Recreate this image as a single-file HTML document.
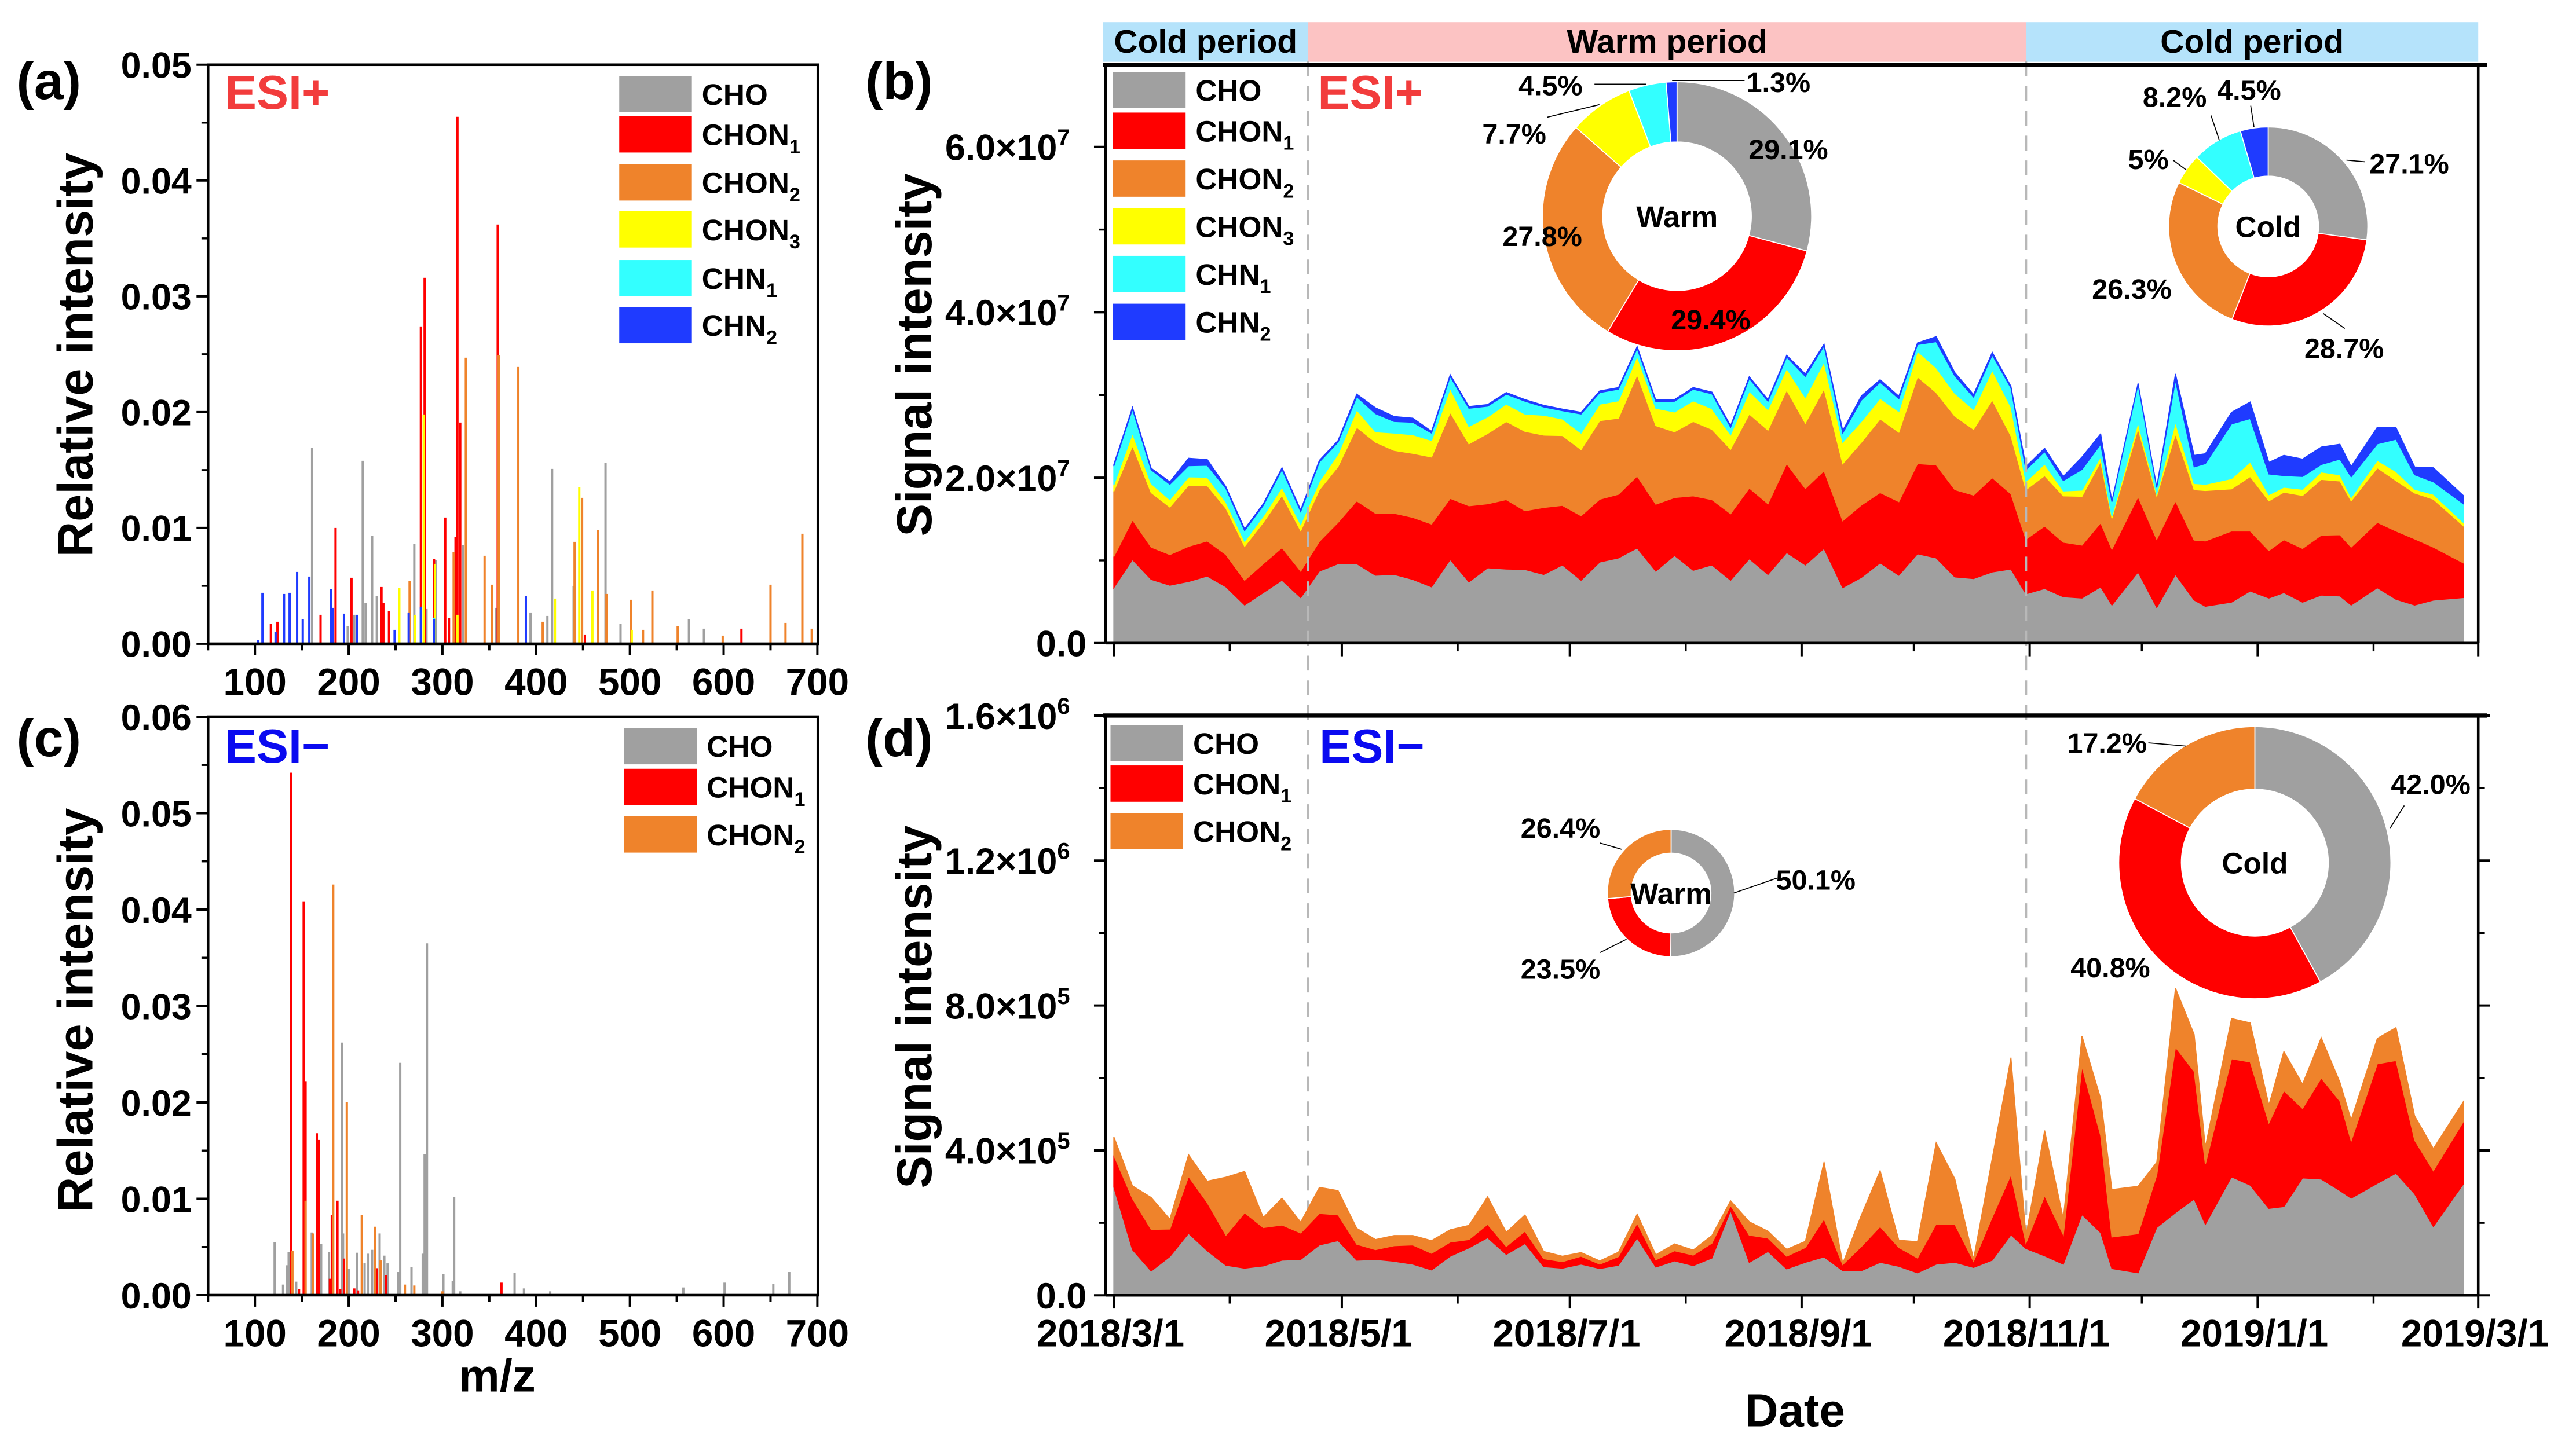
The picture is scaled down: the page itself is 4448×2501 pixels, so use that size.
<!DOCTYPE html>
<html><head><meta charset="utf-8"><title>ESI+/ESI- spectra and signal intensity</title>
<style>
html,body{margin:0;padding:0;background:#fff;}
svg{display:block;font-family:"Liberation Sans",Arial,sans-serif;font-weight:bold;}
</style></head>
<body>
<svg id="fig" xmlns="http://www.w3.org/2000/svg" width="4448" height="2501" viewBox="0 0 1560 877.2" preserveAspectRatio="none">
<rect x="0" y="0" width="1560" height="877.2" fill="#fff"/>
<g id="gA"></g>
<g id="gC"></g>
<g id="gB"></g>
<g id="gD"></g>
<g id="gTxt">
<text x="10" y="60" font-size="32">(a)</text>
<text x="524" y="60" font-size="32">(b)</text>
<text x="10" y="458" font-size="32">(c)</text>
<text x="524" y="458" font-size="32">(d)</text>
<text x="136" y="66" font-size="29" fill="#f23c3c">ESI+</text>
<text x="798" y="66" font-size="29" fill="#f23c3c">ESI+</text>
<text x="136" y="462" font-size="29" fill="#0a0af0">ESI−</text>
<text x="799" y="462" font-size="29" fill="#0a0af0">ESI−</text>
<text transform="translate(56,215) rotate(-90)" text-anchor="middle" font-size="30" textLength="245" lengthAdjust="spacingAndGlyphs">Relative intensity</text>
<text transform="translate(56,612) rotate(-90)" text-anchor="middle" font-size="30" textLength="245" lengthAdjust="spacingAndGlyphs">Relative intensity</text>
<text transform="translate(564,215) rotate(-90)" text-anchor="middle" font-size="30" textLength="220" lengthAdjust="spacingAndGlyphs">Signal intensity</text>
<text transform="translate(564,610) rotate(-90)" text-anchor="middle" font-size="30" textLength="220" lengthAdjust="spacingAndGlyphs">Signal intensity</text>
<text x="301" y="843" text-anchor="middle" font-size="28">m/z</text>
<text x="1087" y="864" text-anchor="middle" font-size="28">Date</text>
</g>
</svg>
<script>
// ---------- Panel (a) ESI+ spectrum data ----------
const posMz  = [161,215,225,270,293,322,417,474,394,563,579,490,357,412,199,440,283,206,230,218,
                186,203,235,277,281,316,319,303,359,291,117,124,170,237,243,314,307,619,452,
                325,360,381,345,353,449,466,441,475,501,524,650,684,666,551,312,265,407,694,599,514,
                280,446,254,292,420,460,271,316,502,
                277,291,
                108,131,137,145,151,158,181,183,195,209,264,277,389,291,122,249,103];
const posInt = [0.0169,0.0158,0.0093,0.0086,0.0072,0.0085,0.0151,0.0156,0.0027,0.0021,0.0013,0.0017,0.0031,0.0024,0.0015,0.0050,0.0030,0.0025,0.0041,0.0035,
                0.0100,0.0057,0.0049,0.0274,0.0316,0.0455,0.0191,0.0109,0.0362,0.0073,0.0017,0.0019,0.0025,0.0035,0.0028,0.0092,0.0022,0.0013,0.0008,
                0.0247,0.0249,0.0239,0.0076,0.0051,0.0126,0.0098,0.0088,0.0043,0.0038,0.0046,0.0051,0.0095,0.0018,0.0015,0.0079,0.0054,0.0019,0.0013,0.0007,0.0012,
                0.0198,0.0135,0.0048,0.0069,0.0039,0.0046,0.0025,0.0025,0.0012,
                0.0030,0.0022,
                0.0044,0.0043,0.0044,0.0062,0.0021,0.0058,0.0047,0.0031,0.0026,0.0025,0.0027,0.0032,0.0041,0.0021,0.0010,0.0012,0.0003];
const posCls = [0,0,0,0,0,0,0,0,0,0,0,0,0,0,0,0,0,0,0,0,
                1,1,1,1,1,1,1,1,1,1,1,1,1,1,1,1,1,1,1,
                2,2,2,2,2,2,2,2,2,2,2,2,2,2,2,2,2,2,2,2,2,
                3,3,3,3,3,3,3,3,3,
                4,4,
                5,5,5,5,5,5,5,5,5,5,5,5,5,5,5,5,5];
// ---------- Panel (c) ESI- spectrum data ----------
const negMz  = [193,255,283.5,281,312.5,121,136,134,160.6,170.6,179,194,209,221,225,233,238,253,267,279,301,311,377,387,557,601,653,670,144,130,200,217,241.5,415,319,
                138.5,152,154,166,168,188,182,147,230,240,363,206,210,180,191,195,
                183.5,198,214,228,154,162,140,234,260,270,300];
const negInt = [0.0262,0.0241,0.0365,0.0146,0.0102,0.0055,0.0045,0.0031,0.0065,0.0053,0.0045,0.0064,0.0044,0.0043,0.0047,0.0064,0.0041,0.0024,0.0029,0.0043,0.0022,0.0015,0.0023,0.0007,0.0008,0.0013,0.0012,0.0024,0.0014,0.0011,0.0027,0.0033,0.0033,0.0004,0.0004,
                0.0542,0.0408,0.0222,0.0168,0.0161,0.0098,0.0083,0.0006,0.0028,0.0021,0.0013,0.0007,0.0005,0.0017,0.0006,0.0038,
                0.0426,0.0200,0.0083,0.0071,0.0098,0.0064,0.0046,0.0036,0.0011,0.0010,0.0004];
const negCls = [0,0,0,0,0,0,0,0,0,0,0,0,0,0,0,0,0,0,0,0,0,0,0,0,0,0,0,0,0,0,0,0,0,0,0,
                1,1,1,1,1,1,1,1,1,1,1,1,1,1,1,1,
                2,2,2,2,2,2,2,2,2,2,2];
// ---------- Time series (days since 2018/3/1) ----------
const sampleDays = [0,5,10,15,20,25,30,35,40,45,50,55,60,65,70,75,80,85,90,95,100,105,110,115,120,125,130,135,140,145,150,155,160,165,170,175,180,
                    185,190,195,200,205,210,215,220,225,230,235,240,244,249,254,259,264,267,274,279,284,289,292,299,304,309,313,318,323,328,331,338,343,348,353,361];
// ESI+ signal (units of 1e6)
const posCHO   = [6.7,10.1,7.7,7.0,7.45,8.1,6.8,4.6,6.1,7.6,5.5,8.7,9.6,9.6,8.2,8.3,7.7,6.8,10.1,7.4,9.1,8.95,8.9,8.3,9.45,7.6,9.8,10.3,11.5,8.7,10.6,8.8,9.45,7.6,10.2,8.3,10.95,
                  9.45,11.45,6.7,7.95,9.7,8.2,10.8,10.3,8.0,7.8,8.6,8.95,5.95,6.6,5.6,5.45,6.8,4.6,8.6,4.3,8.3,5.2,4.45,4.95,6.3,5.45,6.1,4.95,5.8,5.7,4.6,6.7,5.3,4.6,5.2,5.5];
const posCHON1 = [3.75,4.8,3.9,3.7,4.25,4.25,3.9,3.0,3.5,3.95,3.2,3.6,5.0,7.6,7.5,7.4,7.5,7.6,7.4,9.2,7.75,8.4,7.1,8.1,7.2,7.8,7.6,7.7,8.7,8.1,7.0,9.0,7.9,8.05,8.55,8.55,10.75,
                  9.25,9.4,8.1,8.75,8.5,8.9,10.9,11.25,10.55,10.1,11.4,9.1,6.6,7.55,6.6,6.4,7.75,6.75,9.1,8.25,8.9,7.25,7.9,8.6,7.25,5.75,6.4,6.5,7.25,7.4,7.0,7.9,8.25,8.0,6.4,4.2];
const posCHON2 = [7.9,8.95,6.6,5.75,7.4,6.7,5.6,4.1,5.0,6.3,4.9,6.25,6.75,8.9,8.6,7.6,7.75,8.1,10.4,7.5,8.5,9.45,9.6,8.75,8.45,8.0,9.5,9.2,12.25,9.5,7.95,9.0,8.5,7.8,8.95,8.9,8.9,
                  7.9,9.9,6.9,7.6,8.9,8.4,10.5,8.75,8.9,7.95,9.4,7.0,6.0,6.1,5.6,5.9,7.4,3.75,8.25,5.25,8.1,6.1,6.1,5.1,6.6,6.0,5.75,6.4,6.75,6.5,5.6,6.6,6.1,5.55,5.8,4.5];
const posCHON3 = [0.75,1.5,1.1,0.9,1.0,1.0,0.75,0.6,0.75,1.0,0.75,1.0,1.5,2.1,1.25,2.1,2.25,2.0,2.9,2.1,2.0,2.1,2.1,2.4,2.0,2.0,2.0,2.1,2.25,2.1,2.4,2.5,2.5,1.75,2.75,2.5,2.6,
                  3.1,3.25,2.6,2.5,2.5,2.5,3.1,3.0,2.75,2.4,3.6,3.5,1.0,1.4,0.6,0.75,0.6,0.25,0.75,0.25,1.4,0.75,0.75,1.25,1.75,0.75,0.6,0.75,0.9,0.75,0.4,0.9,1.1,0.45,0.6,0.4];
const posCHN1  = [2.3,2.95,1.65,1.85,1.35,1.45,1.65,1.3,1.3,2.15,1.55,2.35,1.45,1.6,2.2,1.4,1.5,0.9,1.45,2.2,1.3,1.2,1.55,1.0,1.0,2.3,1.4,1.4,0.95,0.8,1.3,1.4,1.8,0.9,1.55,1.0,1.4,
                  2.55,1.95,1.1,2.6,1.95,1.55,0.8,3.15,2.1,1.5,1.85,2.3,1.4,1.5,1.25,2.5,1.5,1.75,4.6,0.75,5.1,2.0,2.5,6.6,5.25,2.5,1.4,1.55,0.9,1.9,2.5,2.0,3.9,1.75,1.5,2.25];
const posCHN2  = [0.2,0.2,0.2,0.3,0.9,0.7,0.2,0.2,0.2,0.2,0.2,0.2,0.2,0.3,0.7,0.6,0.5,0.2,0.2,0.2,0.2,0.2,0.2,0.2,0.2,0.2,0.2,0.2,0.2,0.2,0.2,0.2,0.2,0.2,0.2,0.2,0.2,
                  0.3,0.2,0.3,0.5,0.3,0.3,0.2,0.6,0.4,0.3,0.3,0.2,0.4,0.4,0.5,1.5,1.25,0.05,0.1,0.05,0.75,1.4,1.2,1.4,2.0,1.4,2.45,2.1,2.1,1.8,1.25,2.0,1.4,0.95,1.7,1.0];
// ESI- signal (units of 1e5)
const negCHO   = [2.99,1.26,0.67,1.07,1.71,1.23,0.83,0.75,0.81,0.97,0.99,1.39,1.51,0.97,0.99,0.94,0.86,0.70,1.08,1.31,1.59,1.13,1.43,0.79,0.75,0.86,0.74,0.83,1.58,0.78,0.95,0.82,1.03,2.34,0.91,1.21,0.73,
                  0.91,1.06,0.68,0.68,0.91,0.80,0.62,0.86,0.91,0.77,0.97,1.67,1.29,1.09,0.86,2.23,1.73,0.74,0.62,1.87,2.28,2.66,1.96,3.27,3.04,2.40,2.45,3.24,3.21,2.89,2.68,3.09,3.37,2.80,1.90,3.07];
const negCHON1 = [0.88,1.41,1.15,0.76,1.57,1.33,0.83,1.53,1.06,0.97,0.73,0.87,0.71,0.44,0.27,0.43,0.53,0.46,0.39,0.23,0.37,0.22,0.34,0.22,0.18,0.22,0.12,0.24,0.41,0.20,0.28,0.29,0.41,0.14,0.75,0.37,0.35,
                  0.41,1.05,0.17,0.67,0.99,0.52,0.41,1.11,1.05,0.17,1.19,1.66,0.15,1.66,0.81,4.09,2.68,0.87,1.08,1.45,4.57,3.52,1.66,3.26,3.40,2.36,3.20,1.92,2.79,2.47,1.58,3.30,3.11,1.48,1.54,1.72];
const negCHON2 = [0.51,0.35,0.88,0.27,0.60,0.59,1.60,1.14,0.28,0.74,0.30,0.72,0.67,0.44,0.28,0.28,0.26,0.35,0.34,0.39,0.76,0.39,0.45,0.20,0.15,0.10,0.09,0.12,0.25,0.14,0.19,0.14,0.21,0.13,0.37,0.19,0.19,
                  0.17,1.57,0.03,0.87,1.54,0.20,0.45,2.24,1.25,0.06,1.62,3.23,0.20,1.80,0.44,0.84,1.02,1.31,1.31,0.35,1.63,1.02,0.47,1.11,1.08,0.49,1.08,0.67,1.11,0.52,0.58,0.70,0.91,0.67,0.61,0.55];
// Donut shares (%)
const warmPosShares = [29.1,29.4,27.8,7.7,4.5,1.3];
const coldPosShares = [27.1,28.7,26.3,5,8.2,4.5];
const warmNegShares = [50.1,23.5,26.4];
const coldNegShares = [42.0,40.8,17.2];
// Ticks
const mzTicks = [100,200,300,400,500,600,700];
const relTicksA = [0,0.01,0.02,0.03,0.04,0.05];
const relTicksC = [0,0.01,0.02,0.03,0.04,0.05,0.06];
const dateTickDays = [0,61,122,184,245,306,365];
const dateTickLabels = ["2018/3/1","2018/5/1","2018/7/1","2018/9/1","2018/11/1","2019/1/1","2019/3/1"];
const minorMonthDays = [31,92,153,214,275,337];
const posSigTicks = [0,20,40,60];          // x1e6
const posSigLabels = [["0.0",""],["2.0×10","7"],["4.0×10","7"],["6.0×10","7"]];
const negSigTicks = [0,4,8,12,16];         // x1e5
const negSigLabels = [["0.0",""],["4.0×10","5"],["8.0×10","5"],["1.2×10","6"],["1.6×10","6"]];
const periodBounds = [0,52,244,365];

const COLORS = ["#a0a0a0","#ff0000","#ef832b","#ffff00","#33ffff","#1f3bff"];
const CLASSNAMES = ["cho","chon1","chon2","chon3","chn1","chn2"];
const NS = "http://www.w3.org/2000/svg";
const AXL = 669.5, AXR = 1500.8;
function mk(tag, attrs, parent){
  const e = document.createElementNS(NS, tag);
  for (const k in attrs) e.setAttribute(k, attrs[k]);
  parent.appendChild(e);
  return e;
}
// scales
const xm = mz => 126 + (mz-50)*369/650;
const ya = v => 390 - v*350.8/0.05;
const yc = v => 784.6 - v*350.4/0.06;
const xd = d => 674.5 + d*826.3/365;
const yb = v => 389.6 - v*300.6/60;
const yd = v => 784.7 - v*351.2/16;

// ---------- spectra ----------
function spectrum(g, mzs, ints, cls, ycalc, top, bottom, ticks){
  for (let c=0;c<6;c++){
    for (let i=0;i<mzs.length;i++){
      if (cls[i]!==c) continue;
      const y = ycalc(ints[i]);
      const b = mk('rect',{x:xm(mzs[i])-0.7,y:y,width:1.4,height:bottom-y,fill:COLORS[c]},g);
      
      
    }
  }
  const fr = mk('rect',{x:126,y:top,width:369.3,height:bottom-top,fill:'none',stroke:'#000','stroke-width':1.6},g);
  
  
  for (let m=50;m<=700;m+=50){
    const major = (m%100===0);
    const t = mk('line',{x1:xm(m),x2:xm(m),y1:bottom,y2:bottom+(major?7:4),stroke:'#000','stroke-width':1.4},g);
    
    
  }
  mzTicks.forEach(m=>{
    const t = mk('text',{x:xm(m),y:bottom+31,'text-anchor':'middle','font-size':23},g);
    t.textContent = m;
    
    
  });
  ticks.forEach((v,i)=>{
    const y = ycalc(v);
    const t = mk('line',{x1:126,x2:119,y1:y,y2:y,stroke:'#000','stroke-width':1.4},g);
    
    
    if (i<ticks.length-1){
      const ym = ycalc(v+0.005);
      const t2 = mk('line',{x1:126,x2:122,y1:ym,y2:ym,stroke:'#000','stroke-width':1.2},g);
      
      
    }
    const l = mk('text',{x:116,y:y+8,'text-anchor':'end','font-size':22},g);
    l.textContent = v.toFixed(2);
    
    
  });
}
const gA = document.getElementById('gA');
spectrum(gA, posMz, posInt, posCls, ya, 39.2, 390, relTicksA);
const gC = document.getElementById('gC');
spectrum(gC, negMz, negInt, negCls, yc, 434.2, 784.6, relTicksC);

// legends
function legend(g, x, rows, names, colors, boxH){
  rows.forEach((cy,i)=>{
    const r = mk('rect',{x:x,y:cy-boxH/2,width:44,height:boxH,fill:colors[i]},g);
    
    
    const t = mk('text',{x:x+50,y:cy+6.5,'font-size':18},g);
    
    
    t.appendChild(document.createTextNode(names[i][0]));
    if (names[i][1]){
      const s = mk('tspan',{'font-size':12,dy:5},t);
      s.textContent = names[i][1];
    }
  });
}
const LEG6 = [["CHO",""],["CHON","1"],["CHON","2"],["CHON","3"],["CHN","1"],["CHN","2"]];
legend(gA, 375, [57,81.4,110.5,139,168.5,197], LEG6, COLORS, 22);
legend(gC, 378, [452,476.7,505.5], LEG6.slice(0,3), COLORS, 22);

// ---------- time series panels ----------
function stacked(g, layers, ycalc){
  const n = sampleDays.length;
  let base = new Array(n).fill(0);
  layers.forEach((arr,li)=>{
    const top = base.map((b,i)=>b+arr[i]);
    let pts = [];
    for (let i=0;i<n;i++) pts.push(xd(sampleDays[i]).toFixed(2)+','+ycalc(top[i]).toFixed(2));
    for (let i=n-1;i>=0;i--) pts.push(xd(sampleDays[i]).toFixed(2)+','+ycalc(base[i]).toFixed(2));
    const p = mk('polygon',{points:pts.join(' '),fill:COLORS[li],stroke:COLORS[li],'stroke-width':0.6},g);
    
    
    base = top;
  });
}
function dateAxis(g, bottom, withLabels){
  dateTickDays.forEach((d,i)=>{
    const t = mk('line',{x1:xd(d),x2:xd(d),y1:bottom,y2:bottom+8,stroke:'#000','stroke-width':1.4},g);
    
    
    if (withLabels){
      const l = mk('text',{x:xd(d)-2,y:bottom+31,'text-anchor':'middle','font-size':23},g);
      l.textContent = dateTickLabels[i];
      
      
    }
  });
  minorMonthDays.forEach(d=>{
    const t = mk('line',{x1:xd(d),x2:xd(d),y1:bottom,y2:bottom+5,stroke:'#000','stroke-width':1.2},g);
    
    
  });
}
function sigAxis(g, ticks, labels, ycalc, rightTicks){
  ticks.forEach((v,i)=>{
    const y = ycalc(v);
    const t = mk('line',{x1:AXL,x2:AXL-7,y1:y,y2:y,stroke:'#000','stroke-width':1.4},g);
    
    
    if (rightTicks){
      const t3 = mk('line',{x1:AXR,x2:AXR+7,y1:y,y2:y,stroke:'#000','stroke-width':1.4},g);
      
      
    }
    if (i<ticks.length-1){
      const ym = ycalc((v+ticks[i+1])/2);
      const t2 = mk('line',{x1:AXL,x2:AXL-4,y1:ym,y2:ym,stroke:'#000','stroke-width':1.2},g);
      
      
      if (rightTicks){
        const t4 = mk('line',{x1:AXR,x2:AXR+4,y1:ym,y2:ym,stroke:'#000','stroke-width':1.2},g);
        
        
      }
    }
    const l = mk('text',{x:labels[i][1]?648:658,y:y+8,'text-anchor':'end','font-size':22},g);
    
    
    l.appendChild(document.createTextNode(labels[i][0]));
    if (labels[i][1]){
      const s = mk('tspan',{'font-size':14,dy:-9},l);
      s.textContent = labels[i][1];
    }
  });
}
function frameTS(g, top, bottom){
  const L = [[AXL,top,AXL,bottom],[AXL,bottom,AXR,bottom],[AXR,top,AXR,bottom]];
  L.forEach(c=>{
    const l = mk('line',{x1:c[0],y1:c[1],x2:c[2],y2:c[3],stroke:'#000','stroke-width':1.6},g);
    
    
  });
  const tl = mk('line',{x1:668,y1:top,x2:1506,y2:top,stroke:'#000','stroke-width':2.6},g);
  
  
}

// period band
const gB = document.getElementById('gB');
const bandColors = ['#b5e3fb','#fcc3c3','#b5e3fb'];
const bandText = ['Cold period','Warm period','Cold period'];
for (let i=0;i<3;i++){
  const x0 = i===0 ? 668 : xd(periodBounds[i]);
  const x1 = i===2 ? AXR : xd(periodBounds[i+1]);
  const r = mk('rect',{x:x0,y:13.4,width:x1-x0,height:24,fill:bandColors[i]},gB);
  
  
  const t = mk('text',{x:(x0+x1)/2,y:32,'text-anchor':'middle','font-size':20},gB);
  t.textContent = bandText[i];
  
  
}
stacked(gB, [posCHO,posCHON1,posCHON2,posCHON3,posCHN1,posCHN2], yb);
const gD = document.getElementById('gD');
stacked(gD, [negCHO,negCHON1,negCHON2], yd);

// dashed period separators
[periodBounds[1],periodBounds[2]].forEach(d=>{
  const l = mk('line',{x1:xd(d),x2:xd(d),y1:37.2,y2:784,stroke:'#b8b8b8','stroke-width':1.5,'stroke-dasharray':'9,6'},gB);
  
  
});
frameTS(gB, 39.2, 389.6);
frameTS(gD, 433.5, 784.7);
dateAxis(gB, 389.6, false);
dateAxis(gD, 784.7, true);
sigAxis(gB, posSigTicks, posSigLabels, yb, false);
sigAxis(gD, negSigTicks, negSigLabels, yd, true);
legend(gB, 674, [54.5,79.2,108.2,137.1,166,195], LEG6, COLORS, 22);
legend(gD, 672.5, [450.2,474.7,503.5], LEG6.slice(0,3), COLORS, 22);

// ---------- donuts ----------
function donut(g, cx, cy, ro, ri, shares, center, labels, leaders, nm){
  const total = shares.reduce((a,b)=>a+b,0);
  let a0 = -Math.PI/2;
  shares.forEach((s,i)=>{
    const a1 = a0 + s/total*2*Math.PI;
    const large = (a1-a0)>Math.PI?1:0;
    const p = (r,a)=>(cx+r*Math.cos(a)).toFixed(2)+','+(cy+r*Math.sin(a)).toFixed(2);
    const d = 'M'+p(ro,a0)+' A'+ro+','+ro+' 0 '+large+' 1 '+p(ro,a1)+' L'+p(ri,a1)+' A'+ri+','+ri+' 0 '+large+' 0 '+p(ri,a0)+' Z';
    const sl = mk('path',{d:d,fill:COLORS[i],stroke:'#fff','stroke-width':0.6},g);
    
    
    a0 = a1;
  });
  const ct = mk('text',{x:cx,y:cy+6.5,'text-anchor':'middle','font-size':18},g);
  ct.textContent = center;
  
  
  labels.forEach(l=>{
    const t = mk('text',{x:l[1],y:l[2]+6,'text-anchor':'middle','font-size':17},g);
    t.textContent = l[0];
    
    
  });
  leaders.forEach(l=>{
    const ln = mk('line',{x1:l[0],y1:l[1],x2:l[2],y2:l[3],stroke:'#000','stroke-width':0.6},g);
    
    
  });
}
donut(gB, 1015.6, 131, 81.5, 45, warmPosShares, 'Warm',
  [[warmPosShares[0].toFixed(1)+'%',1083,90.5],[warmPosShares[1].toFixed(1)+'%',1036,193.6],[warmPosShares[2].toFixed(1)+'%',934,143],
   [warmPosShares[3].toFixed(1)+'%',917,81],[warmPosShares[4].toFixed(1)+'%',939,51.7],[warmPosShares[5].toFixed(1)+'%',1077,49.8]],
  [[965.6,51,996.8,51],[1012.6,48.8,1056.5,48.8],[937,71,968.6,63.4]], 'warm-esi-plus-donut');
donut(gB, 1373.6, 137.2, 60.3, 30.5, coldPosShares, 'Cold',
  [[coldPosShares[0].toFixed(1)+'%',1459,99],[coldPosShares[1].toFixed(1)+'%',1419.6,211],[coldPosShares[2].toFixed(1)+'%',1291,175],
   [String(coldPosShares[3])+'%',1301,96.5],[coldPosShares[4].toFixed(1)+'%',1317,58.7],[coldPosShares[5].toFixed(1)+'%',1362,54.5]],
  [[1407,190,1420,199],[1316,97,1324,103],[1339,70,1344,85],[1363,64,1365,77],[1421,97,1432,98]], 'cold-esi-plus-donut');
donut(gD, 1012, 541, 38.6, 24.2, warmNegShares, 'Warm',
  [[warmNegShares[2].toFixed(1)+'%',945,501.6],[warmNegShares[0].toFixed(1)+'%',1099.6,533],[warmNegShares[1].toFixed(1)+'%',945,587]],
  [[969,510.7,982,514.5],[1050,541,1076,532],[969,577,985,569]], 'warm-esi-minus-donut');
donut(gD, 1365.5, 522.6, 82.4, 44.5, coldNegShares, 'Cold',
  [[coldNegShares[2].toFixed(1)+'%',1276,450],[coldNegShares[0].toFixed(1)+'%',1472,475],[coldNegShares[1].toFixed(1)+'%',1278,586]],
  [[1301,450,1324,452],[1456,488,1447.5,501.6]], 'cold-esi-minus-donut');
</script>
</body></html>
